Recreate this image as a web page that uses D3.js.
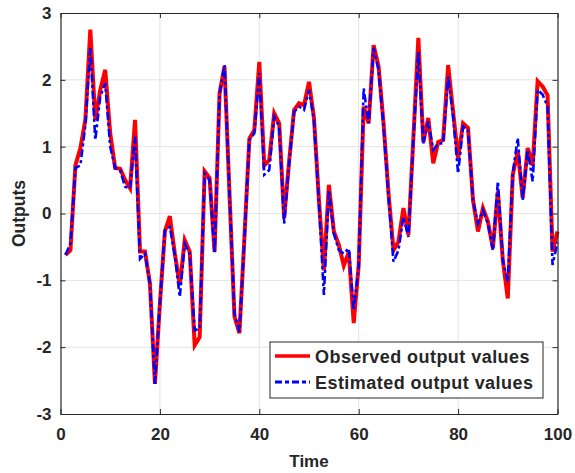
<!DOCTYPE html>
<html>
<head>
<meta charset="utf-8">
<script src="https://cdn.jsdelivr.net/npm/d3@7"></script>
<style>
  body { margin: 0; background: #fff; }
  text { font-family: Arial, "Liberation Sans", sans-serif; font-weight: bold; fill: #262626; }
</style>
</head>
<body>
<div class="chart"></div>
<script>
// observed (red) and estimated (blue) output values, t = 1..100
const observed = [
  -0.62, -0.55, 0.72, 0.98, 1.40, 2.75, 1.40, 1.85, 2.15, 1.20,
  0.68, 0.67, 0.50, 0.38, 1.40, -0.57, -0.57, -1.05, -2.55, -1.35,
  -0.27, -0.04, -0.60, -1.07, -0.40, -0.57, -1.97, -1.85, 0.63, 0.53,
  -0.57, 1.80, 2.20, 0.30, -1.54, -1.79, -0.37, 1.12, 1.25, 2.27,
  0.72, 0.80, 1.50, 1.35, -0.07, 0.78, 1.55, 1.65, 1.62, 1.97,
  1.43, 0.20, -0.85, 0.43, -0.27, -0.47, -0.78, -0.58, -1.64, -0.77,
  1.60, 1.35, 2.52, 2.20, 1.35, 0.30, -0.55, -0.42, 0.08, -0.32,
  1.13, 2.63, 1.07, 1.43, 0.75, 1.07, 1.10, 2.22, 1.52, 0.83,
  1.35, 1.28, 0.20, -0.27, 0.08, -0.12, -0.52, 0.33, -0.70, -1.27,
  0.58, 0.93, 0.23, 0.98, 0.72, 1.98, 1.90, 1.77, -0.57, -0.27
];
const estimated = [
  -0.62, -0.45, 0.68, 0.72, 1.32, 2.48, 1.10, 1.75, 1.95, 1.00,
  0.68, 0.65, 0.40, 0.38, 1.15, -0.68, -0.60, -1.05, -2.55, -1.35,
  -0.25, -0.20, -0.62, -1.25, -0.45, -0.60, -1.75, -1.72, 0.60, 0.50,
  -0.60, 1.78, 2.22, 0.30, -1.50, -1.77, -0.40, 1.10, 1.20, 2.10,
  0.58, 0.65, 1.45, 1.30, -0.15, 0.75, 1.52, 1.60, 1.55, 1.85,
  1.40, 0.15, -1.22, 0.35, -0.30, -0.55, -0.60, -0.52, -1.45, -0.80,
  1.87, 1.35, 2.48, 2.15, 1.30, 0.25, -0.72, -0.55, -0.05, -0.35,
  1.10, 2.42, 1.05, 1.38, 0.95, 1.05, 1.05, 2.05, 1.45, 0.60,
  1.30, 1.25, 0.20, -0.15, 0.05, -0.15, -0.55, 0.48, -0.70, -1.02,
  0.60, 1.13, 0.20, 0.95, 0.48, 1.85, 1.78, 1.60, -0.77, -0.43
];
const xTicks = [0, 20, 40, 60, 80, 100];
const yTicks = [-3, -2, -1, 0, 1, 2, 3];
const seriesNames = ['Observed output values', 'Estimated output values'];

const width = 575, height = 473;
const margin = { top: 13, right: 17.5, bottom: 59, left: 60.5 };
const iw = width - margin.left - margin.right;
const ih = height - margin.top - margin.bottom;
const axisColor = '#262626';

const svg = d3.select('.chart')
  .append('svg')
  .attr('width', width)
  .attr('height', height);

const g = svg.append('g')
  .attr('transform', `translate(${margin.left}, ${margin.top})`);

const x = d3.scaleLinear().domain([0, 100]).range([0, iw]);
const y = d3.scaleLinear().domain([-3, 3]).range([ih, 0]);

// grid
g.append('g').selectAll('line')
  .data(xTicks.slice(1, -1))
  .enter().append('line')
  .attr('x1', d => x(d)).attr('x2', d => x(d))
  .attr('y1', 0).attr('y2', ih)
  .attr('stroke', '#e3e3e3').attr('stroke-width', 1);
g.append('g').selectAll('line')
  .data(yTicks.slice(1, -1))
  .enter().append('line')
  .attr('y1', d => y(d)).attr('y2', d => y(d))
  .attr('x1', 0).attr('x2', iw)
  .attr('stroke', '#e3e3e3').attr('stroke-width', 1);

// lines
const line = d3.line()
  .x((d, i) => x(i + 1))
  .y(d => y(d));

const blueDash = '8,3,3,3';

g.append('path')
  .datum(observed)
  .attr('d', line)
  .attr('fill', 'none')
  .attr('stroke', '#ff0000')
  .attr('stroke-width', 4);

g.append('path')
  .datum(estimated)
  .attr('d', line)
  .attr('fill', 'none')
  .attr('stroke', '#0000ff')
  .attr('stroke-width', 2.6)
  .attr('stroke-dasharray', blueDash);

// axes with inward ticks on all sides
const tickLen = 5;
const xAxis = g.append('g')
  .attr('transform', `translate(0, ${ih})`)
  .call(d3.axisBottom(x).tickValues(xTicks).tickSizeInner(-tickLen).tickSizeOuter(0).tickPadding(14));
const xTop = g.append('g')
  .call(d3.axisTop(x).tickValues(xTicks).tickSizeInner(-tickLen).tickSizeOuter(0).tickFormat(''));
const yAxis = g.append('g')
  .call(d3.axisLeft(y).tickValues(yTicks).tickSizeInner(-tickLen).tickSizeOuter(0).tickPadding(9));
const yRight = g.append('g')
  .attr('transform', `translate(${iw}, 0)`)
  .call(d3.axisRight(y).tickValues(yTicks).tickSizeInner(-tickLen).tickSizeOuter(0).tickFormat(''));

[xAxis, xTop, yAxis, yRight].forEach(a => {
  a.select('.domain').attr('stroke', axisColor).attr('stroke-width', 1.2);
  a.selectAll('.tick line').attr('stroke', axisColor).attr('stroke-width', 1);
  a.selectAll('.tick text')
    .attr('font-size', 17)
    .attr('font-family', 'Arial, "Liberation Sans", sans-serif')
    .attr('font-weight', 'bold')
    .attr('fill', axisColor);
});
yAxis.selectAll('.tick text').text(d => d < 0 ? '-' + Math.abs(d) : d);

// axis titles
svg.append('text')
  .attr('x', margin.left + iw / 2)
  .attr('y', 467)
  .attr('text-anchor', 'middle')
  .attr('font-size', 17)
  .text('Time');

svg.append('text')
  .attr('transform', `translate(25, ${margin.top + ih / 2}) rotate(-90)`)
  .attr('text-anchor', 'middle')
  .attr('font-size', 17.5)
  .text('Outputs');

// legend
const legend = svg.append('g').attr('transform', 'translate(270, 342)');
legend.append('rect')
  .attr('width', 273).attr('height', 56)
  .attr('fill', '#fff')
  .attr('stroke', '#262626').attr('stroke-width', 1);

const legendStyles = [
  { color: '#ff0000', dash: null, w: 3.5 },
  { color: '#0000ff', dash: '7,3,4,3', w: 3 }
];
seriesNames.forEach((name, i) => {
  const yy = 14 + i * 26;
  legend.append('line')
    .attr('x1', 5).attr('x2', 40)
    .attr('y1', yy).attr('y2', yy)
    .attr('stroke', legendStyles[i].color)
    .attr('stroke-width', legendStyles[i].w)
    .attr('stroke-dasharray', legendStyles[i].dash);
  legend.append('text')
    .attr('x', 45)
    .attr('y', yy + 7)
    .attr('font-size', 18)
    .attr('letter-spacing', 0.45)
    .attr('fill', '#000')
    .text(name);
});
</script>
</body>
</html>
